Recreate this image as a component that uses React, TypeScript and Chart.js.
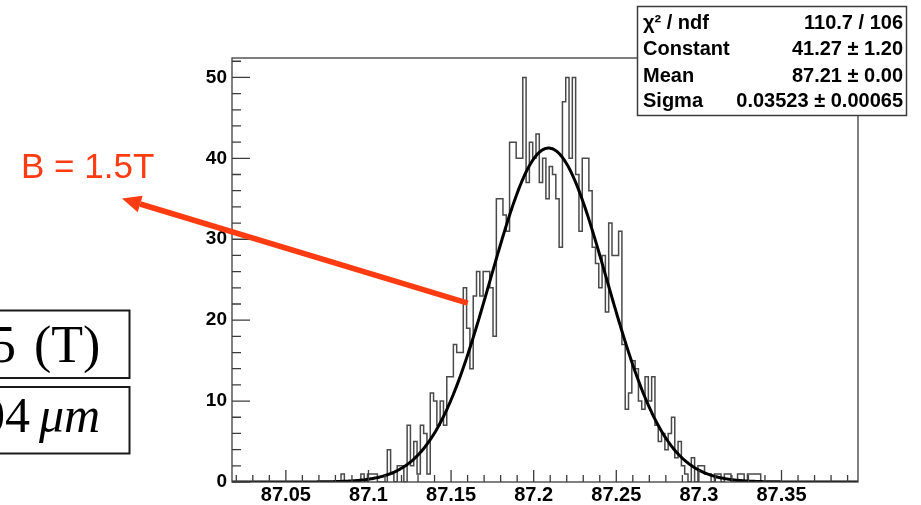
import React, { useEffect, useRef } from 'react';
import { Chart, registerables } from 'chart.js';

Chart.register(...registerables);

// ---- data ----
const X_MIN = 87.0174;
const X_MAX = 87.3963;
const Y_MAX = 52.4;
const BIN_START = 87.0174;
const BIN_WIDTH = 0.002;

const binCounts = [
  0, 0, 0, 0, 0, 0, 0, 0, 0, 0,
  0, 0, 0, 0, 0, 0, 0, 0, 0, 0,
  0, 0, 0, 0, 0, 0, 0, 0, 0, 0,
  0, 0, 0, 1, 0, 0, 0, 0, 0, 1,
  0, 1, 1, 1, 0, 0, 0, 4, 1, 0,
  2, 2, 0, 7, 2, 5, 1, 7, 6, 1,
  11, 10, 7, 10, 7, 13, 13, 17, 16, 16,
  24, 19, 14, 23, 26, 23, 26, 26, 24, 18,
  35, 35, 33, 31, 42, 42, 40, 40, 50, 37,
  42, 40, 43, 37, 40, 35, 39, 38, 35, 29,
  47, 50, 40, 50, 38, 31, 40, 40, 36, 29,
  27, 24, 28, 21, 32, 28, 28, 31, 17, 9,
  11, 15, 14, 10, 9, 13, 10, 13, 7, 5,
  6, 4, 6, 8, 3, 5, 2, 1, 0, 3,
  0, 2, 2, 1, 1, 0, 1, 1, 0, 1,
  1, 0, 0, 1, 1, 0, 1, 1, 1, 1,
  0, 0, 0, 0, 0, 0, 0, 0, 0, 0,
  0, 0, 0, 0, 0, 0, 0, 0, 0, 0,
  0, 0, 0, 0, 0, 0, 0, 0, 0,
];

const xTickValues = [87.05, 87.1, 87.15, 87.2, 87.25, 87.3, 87.35];
const yTickValues = [0, 10, 20, 30, 40, 50];

const fitConstant = 41.27;
const fitMean = 87.209;
const fitSigma = 0.03523;

const statLabels = ['χ² / ndf', 'Constant', 'Mean', 'Sigma'];
const statValues = ['110.7 / 106', '41.27 ± 1.20', '87.21 ± 0.00', '0.03523 ± 0.00065'];

const annotationText = 'B = 1.5T';
const arrowTail = { x: 87.1601, y: 22.1 };
const leftBox1Num = '5';
const leftBox1Unit = '(T)';
const leftBox2Num = '04';
const leftBox2Unit = 'μm';

const SANS = '"Liberation Sans", Arial, sans-serif';
const SERIF = '"Liberation Serif", "Times New Roman", serif';

const decorPlugin = {
  id: 'decor',
  afterDraw(chart: any) {
    const ctx: CanvasRenderingContext2D = chart.ctx;
    const { left, top, right, bottom } = chart.chartArea;
    const xs = chart.scales.x;
    const ys = chart.scales.y;
    ctx.save();

    // frame
    ctx.strokeStyle = '#3c3c3c';
    ctx.lineWidth = 1.3;
    ctx.strokeRect(left, top, right - left, bottom - top);

    // y ticks (inward)
    ctx.beginPath();
    for (let k = 0; 2 * k <= Y_MAX; k++) {
      const v = 2 * k;
      const py = ys.getPixelForValue(v);
      const len = v % 10 === 0 ? 18 : 9;
      ctx.moveTo(left, py);
      ctx.lineTo(left + len, py);
    }
    // x ticks (inward)
    for (let k = Math.ceil(X_MIN * 100); k / 100 <= X_MAX; k++) {
      const px = xs.getPixelForValue(k / 100);
      const len = k % 5 === 0 ? 12 : 7;
      ctx.moveTo(px, bottom);
      ctx.lineTo(px, bottom - len);
    }
    ctx.stroke();

    // stats box
    const bx = 637.5, by = 6.5, bw = 269, bh = 109;
    ctx.fillStyle = '#ffffff';
    ctx.fillRect(bx, by, bw, bh);
    ctx.strokeStyle = '#3c3c3c';
    ctx.lineWidth = 1.5;
    ctx.strokeRect(bx, by, bw, bh);
    ctx.fillStyle = '#000';
    ctx.font = `bold 20px ${SANS}`;
    ctx.textBaseline = 'alphabetic';
    const baselines = [28.5, 55, 81.5, 107];
    statLabels.forEach((t, i) => {
      ctx.textAlign = 'left';
      ctx.fillText(t, 643, baselines[i]);
      ctx.textAlign = 'right';
      ctx.fillText(statValues[i], 903, baselines[i]);
    });

    // red annotation
    ctx.fillStyle = '#ff3b12';
    ctx.strokeStyle = '#ff3b12';
    ctx.textAlign = 'left';
    ctx.font = `35px ${SANS}`;
    ctx.fillText(annotationText, 21, 178);

    const tx = xs.getPixelForValue(arrowTail.x);
    const ty = ys.getPixelForValue(arrowTail.y);
    const hx = 122, hy = 198.5;
    const ang = Math.atan2(ty - hy, tx - hx);
    const headLen = 19, headHalf = 8.5;
    const baseX = hx + Math.cos(ang) * headLen;
    const baseY = hy + Math.sin(ang) * headLen;
    ctx.lineWidth = 5.5;
    ctx.lineCap = 'butt';
    ctx.beginPath();
    ctx.moveTo(tx, ty);
    ctx.lineTo(baseX, baseY);
    ctx.stroke();
    ctx.beginPath();
    ctx.moveTo(hx, hy);
    ctx.lineTo(baseX - Math.sin(ang) * headHalf, baseY + Math.cos(ang) * headHalf);
    ctx.lineTo(baseX + Math.sin(ang) * headHalf, baseY - Math.cos(ang) * headHalf);
    ctx.closePath();
    ctx.fill();

    // left boxes (cropped)
    ctx.strokeStyle = '#1a1a1a';
    ctx.lineWidth = 2;
    ctx.strokeRect(-5, 310.5, 134.5, 67.5);
    ctx.strokeRect(-5, 387, 134.5, 66.5);
    ctx.fillStyle = '#000';
    ctx.font = `52px ${SERIF}`;
    ctx.fillText(leftBox1Num, -10, 362);
    ctx.fillText(leftBox1Unit, 34, 362);
    ctx.font = `50px ${SERIF}`;
    ctx.fillText(leftBox2Num, -20, 432);
    ctx.font = `italic 50px ${SERIF}`;
    ctx.fillText(leftBox2Unit, 39, 432);

    ctx.restore();
  },
};

export default function App() {
  const ref = useRef<HTMLCanvasElement | null>(null);

  useEffect(() => {
    const canvas = ref.current;
    if (!canvas) return;

    const histPoints: { x: number; y: number }[] = [{ x: BIN_START, y: 0 }];
    binCounts.forEach((c, i) => histPoints.push({ x: BIN_START + i * BIN_WIDTH, y: c }));
    histPoints.push({ x: BIN_START + binCounts.length * BIN_WIDTH, y: 0 });

    const fitPoints: { x: number; y: number }[] = [];
    const N = 600;
    for (let k = 0; k <= N; k++) {
      const x = X_MIN + ((X_MAX - X_MIN) * k) / N;
      const z = (x - fitMean) / fitSigma;
      fitPoints.push({ x, y: fitConstant * Math.exp(-0.5 * z * z) });
    }

    const chart = new Chart(canvas, {
      type: 'line',
      data: {
        datasets: [
          {
            label: 'fit',
            data: fitPoints,
            borderColor: '#000000',
            borderWidth: 3,
            pointRadius: 0,
            tension: 0,
            fill: false,
            order: 1,
          },
          {
            label: 'hist',
            data: histPoints,
            stepped: true,
            borderColor: '#4a4a4a',
            borderWidth: 1.5,
            pointRadius: 0,
            fill: false,
            order: 2,
          },
        ],
      },
      options: {
        responsive: false,
        animation: false,
        devicePixelRatio: 1,
        events: [],
        layout: { padding: { left: 0, top: 58, right: 63, bottom: 0 } },
        plugins: {
          legend: { display: false },
          tooltip: { enabled: false },
          title: { display: false },
        },
        scales: {
          x: {
            type: 'linear',
            min: X_MIN,
            max: X_MAX,
            grid: { display: false, drawTicks: false },
            border: { display: false },
            afterBuildTicks: (s: any) => {
              s.ticks = xTickValues.map((v) => ({ value: v }));
            },
            afterFit: (s: any) => {
              s.height = 23;
            },
            ticks: {
              font: { family: SANS, size: 20, weight: 'bold' },
              color: '#000',
              padding: 1,
              maxRotation: 0,
              autoSkip: false,
              callback: (v: any) => String(Number(Number(v).toFixed(2))),
            },
          },
          y: {
            type: 'linear',
            min: 0,
            max: Y_MAX,
            grid: { display: false, drawTicks: false },
            border: { display: false },
            afterBuildTicks: (s: any) => {
              s.ticks = yTickValues.map((v) => ({ value: v }));
            },
            afterFit: (s: any) => {
              s.width = 232;
            },
            ticks: {
              font: { family: SANS, size: 19, weight: 'bold' },
              color: '#000',
              padding: 5,
              autoSkip: false,
              callback: (v: any) => String(v),
            },
          },
        },
      },
      plugins: [decorPlugin],
    } as any);

    return () => chart.destroy();
  }, []);

  return (
    <div style={{ position: 'absolute', left: 0, top: 0, width: 921, height: 505, background: '#fff', overflow: 'hidden' }}>
      <canvas ref={ref} width={921} height={505} style={{ display: 'block' }} />
    </div>
  );
}
